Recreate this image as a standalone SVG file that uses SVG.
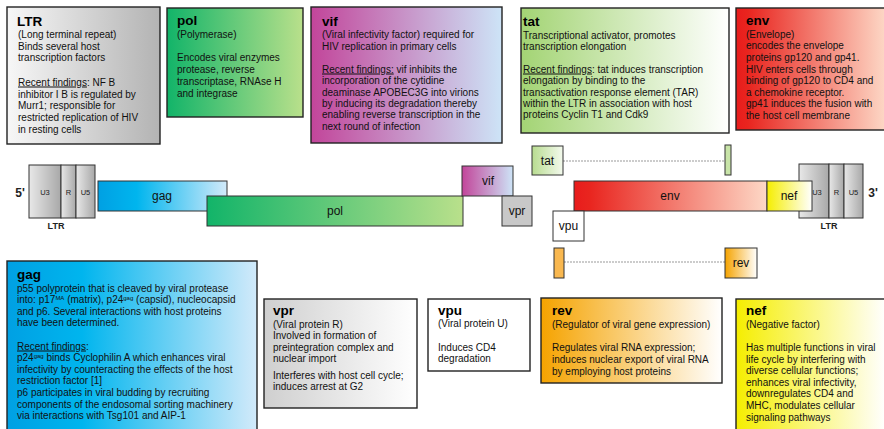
<svg xmlns="http://www.w3.org/2000/svg" width="884" height="429" viewBox="0 0 884 429">
<defs>
<linearGradient id="gLtrBox" x1="0" y1="0" x2="1" y2="0"><stop offset="0" stop-color="#f7f7f7"/><stop offset="1" stop-color="#b3b3b3"/></linearGradient>
<linearGradient id="gPol" x1="0" y1="0" x2="1" y2="0"><stop offset="0" stop-color="#12b469"/><stop offset="1" stop-color="#b9e08b"/></linearGradient>
<linearGradient id="gVif" x1="0" y1="0" x2="1" y2="0"><stop offset="0" stop-color="#c2459a"/><stop offset="1" stop-color="#cde4f7"/></linearGradient>
<linearGradient id="gTat" x1="0" y1="0" x2="1" y2="0"><stop offset="0" stop-color="#a3d474"/><stop offset="1" stop-color="#ffffff"/></linearGradient>
<linearGradient id="gEnv" x1="0" y1="0" x2="1" y2="0"><stop offset="0" stop-color="#e81c1c"/><stop offset="0.08" stop-color="#e9251f"/><stop offset="1" stop-color="#fdd8c6"/></linearGradient>
<linearGradient id="gGag" x1="0" y1="0" x2="1" y2="0"><stop offset="0" stop-color="#00a0e3"/><stop offset="0.3" stop-color="#00b5ee"/><stop offset="1" stop-color="#d2eafa"/></linearGradient>
<linearGradient id="gVpr" x1="0" y1="0" x2="1" y2="0"><stop offset="0" stop-color="#cfcfcf"/><stop offset="1" stop-color="#ffffff"/></linearGradient>
<linearGradient id="gRev" x1="0" y1="0" x2="1" y2="0"><stop offset="0" stop-color="#f5a300"/><stop offset="1" stop-color="#ffffff"/></linearGradient>
<linearGradient id="gNef" x1="0" y1="0" x2="1" y2="0"><stop offset="0" stop-color="#f5ee00"/><stop offset="1" stop-color="#ffffff"/></linearGradient>
<linearGradient id="gLtr" x1="0" y1="0" x2="1" y2="0"><stop offset="0" stop-color="#e8e8e8"/><stop offset="1" stop-color="#a8a8a8"/></linearGradient>
<linearGradient id="gTatSm" x1="0" y1="0" x2="1" y2="0"><stop offset="0" stop-color="#b8dc90"/><stop offset="1" stop-color="#f4faee"/></linearGradient>
</defs>
<style>
text{font-family:"Liberation Sans",Arial,sans-serif;fill:#111}
.box{stroke:#222;stroke-width:1.4}
.bar{stroke:#333;stroke-width:1}
.t{font-size:13.5px;font-weight:bold;fill:#000}
.b{font-size:10px}
.u{text-decoration:underline}
.g{font-size:12px;text-anchor:middle;fill:#111}
.s{font-size:7.5px;text-anchor:middle;fill:#222}
.l{font-size:9px;font-weight:bold;text-anchor:middle;fill:#222}
.p{font-size:12px;font-weight:bold;text-anchor:middle;fill:#222}
.sup{font-size:6px}
.dot{stroke:#999;stroke-width:1.2;stroke-dasharray:2 1;fill:none}
</style>
<rect width="884" height="429" fill="#fff"/>

<g id="box-ltr">
<rect class="box" x="7" y="7" width="153" height="137" fill="url(#gLtrBox)"/>
<text class="t" x="17" y="26">LTR</text>
<text class="b" x="18" y="38">(Long terminal repeat)</text>
<text class="b" x="18" y="49.5">Binds several host</text>
<text class="b" x="18" y="61">transcription factors</text>
<text class="b" x="18" y="85.5"><tspan class="u">Recent  findings</tspan>:  NF  B</text>
<text class="b" x="18" y="97.5">inhibitor I  B is regulated by</text>
<text class="b" x="18" y="109">Murr1; responsible for</text>
<text class="b" x="18" y="120.5">restricted replication of HIV</text>
<text class="b" x="18" y="132.5">in resting cells</text>
</g>

<g id="box-pol">
<rect class="box" x="167" y="8" width="136" height="109" fill="url(#gPol)"/>
<text class="t" x="177" y="25">pol</text>
<text class="b" x="177" y="37.5">(Polymerase)</text>
<text class="b" x="177" y="60.5">Encodes viral enzymes</text>
<text class="b" x="177" y="72.5">protease, reverse</text>
<text class="b" x="177" y="84.5">transcriptase, RNAse H</text>
<text class="b" x="177" y="96.5">and integrase</text>
</g>

<g id="box-vif">
<rect class="box" x="311" y="7" width="191" height="136" fill="url(#gVif)"/>
<text class="t" x="322" y="26">vif</text>
<text class="b" x="322" y="37.5">(Viral infectivity factor) required for</text>
<text class="b" x="322" y="49.5">HIV replication in primary cells</text>
<text class="b" x="322" y="72.5"><tspan class="u">Recent  findings:</tspan>  vif  inhibits  the</text>
<text class="b" x="322" y="83.5">incorporation of the cytidine</text>
<text class="b" x="322" y="95.5">deaminase APOBEC3G into virions</text>
<text class="b" x="322" y="106.5">by inducing its  degradation thereby</text>
<text class="b" x="322" y="118">enabling reverse transcription in the</text>
<text class="b" x="322" y="129.5">next round of infection</text>
</g>

<g id="box-tat">
<rect class="box" x="521" y="8" width="208" height="125" fill="url(#gTat)"/>
<text class="t" x="523" y="26">tat</text>
<text class="b" x="523" y="38.5">Transcriptional activator, promotes</text>
<text class="b" x="523" y="49.5">transcription elongation</text>
<text class="b" x="523" y="72.5"><tspan class="u">Recent  findings</tspan>:  tat  induces  transcription</text>
<text class="b" x="523" y="83.5">elongation by binding to the</text>
<text class="b" x="523" y="95.5">transactivation response element (TAR)</text>
<text class="b" x="523" y="106.5">within the LTR in association with host</text>
<text class="b" x="523" y="118">proteins Cyclin T1 and Cdk9</text>
</g>

<g id="box-env">
<rect class="box" x="736" y="8" width="150" height="122" fill="url(#gEnv)"/>
<text class="t" x="746" y="25">env</text>
<text class="b" x="746" y="37.5">(Envelope)</text>
<text class="b" x="746" y="48.5">encodes the envelope</text>
<text class="b" x="746" y="60.5">proteins gp120 and gp41.</text>
<text class="b" x="746" y="72.5">HIV enters cells through</text>
<text class="b" x="746" y="83.5">binding of gp120 to CD4 and</text>
<text class="b" x="746" y="95.5">a chemokine receptor.</text>
<text class="b" x="746" y="106.5">gp41 induces the fusion with</text>
<text class="b" x="746" y="118.5">the host cell membrane</text>
</g>

<g id="connectors">
<line class="dot" x1="563" y1="161" x2="725" y2="161"/>
<line class="dot" x1="564" y1="262" x2="725" y2="262"/>
</g>

<g id="ltr-5">
<text class="p" x="20" y="197">5'</text>
<rect class="bar" x="29" y="165" width="32" height="53" fill="url(#gLtr)"/>
<rect class="bar" x="61" y="165" width="15" height="53" fill="url(#gLtr)"/>
<rect class="bar" x="76" y="165" width="19" height="53" fill="url(#gLtr)"/>
<text class="s" x="45" y="195">U3</text>
<text class="s" x="68.5" y="195">R</text>
<text class="s" x="85.5" y="195">U5</text>
<text class="l" x="56" y="229">LTR</text>
</g>

<g id="gene-gag">
<rect class="bar" x="98" y="181" width="129" height="30" fill="url(#gGag)"/>
<text class="g" x="162" y="200">gag</text>
</g>

<g id="gene-pol">
<rect class="bar" x="207" y="196" width="256" height="30" fill="url(#gPol)"/>
<text class="g" x="335" y="215">pol</text>
</g>

<g id="gene-vif">
<rect class="bar" x="462" y="166" width="51" height="30" fill="url(#gVif)"/>
<text class="g" x="488" y="185">vif</text>
</g>

<g id="gene-vpr">
<rect class="bar" x="502" y="196" width="30" height="30" fill="#c8c8c8"/>
<text class="g" x="517" y="215">vpr</text>
</g>

<g id="gene-tat">
<rect class="bar" x="532" y="146" width="31" height="29" fill="url(#gTatSm)"/>
<text class="g" x="547.5" y="165">tat</text>
<rect class="bar" x="725" y="145" width="6" height="30" fill="#c8e4a8"/>
</g>

<g id="gene-env">
<rect class="bar" x="574" y="181" width="193" height="30" fill="url(#gEnv)"/>
<text class="g" x="670" y="200">env</text>
</g>

<g id="ltr-3">
<rect class="bar" x="799" y="164" width="30" height="54" fill="url(#gLtr)"/>
<rect class="bar" x="829" y="164" width="15" height="54" fill="url(#gLtr)"/>
<rect class="bar" x="844" y="164" width="19" height="54" fill="url(#gLtr)"/>
<text class="s" x="817" y="195">U3</text>
<text class="s" x="836.5" y="195">R</text>
<text class="s" x="853.5" y="195">U5</text>
<text class="p" x="873" y="197">3'</text>
<text class="l" x="829" y="229">LTR</text>
</g>

<g id="gene-nef">
<rect class="bar" x="767" y="181" width="45" height="30" fill="url(#gNef)"/>
<text class="g" x="789" y="200">nef</text>
</g>

<g id="gene-vpu">
<rect class="bar" x="553" y="211" width="31" height="30" fill="#fff"/>
<text class="g" x="568.5" y="230">vpu</text>
</g>

<g id="gene-rev">
<rect class="bar" x="554" y="248" width="10" height="30" fill="#f9b850"/>
<rect class="bar" x="725" y="248" width="32" height="30" fill="url(#gRev)"/>
<text class="g" x="741" y="267">rev</text>
</g>

<g id="box-gag">
<rect class="box" x="7" y="261" width="250" height="180" fill="url(#gGag)"/>
<text class="t" x="17" y="279">gag</text>
<text class="b" x="17" y="291.5">p55 polyprotein that is cleaved by viral protease</text>
<text class="b" x="17" y="303">into: p17<tspan class="sup" dy="-3">MA</tspan><tspan dy="3"> (matrix), p24</tspan><tspan class="sup" dy="-3">gag</tspan><tspan dy="3"> (capsid), nucleocapsid</tspan></text>
<text class="b" x="17" y="314.7">and p6. Several interactions with host proteins</text>
<text class="b" x="17" y="326.3">have been determined.</text>
<text class="b" x="17" y="349.5"><tspan class="u">Recent  findings</tspan>:</text>
<text class="b" x="17" y="361.1">p24<tspan class="sup" dy="-3">gag</tspan><tspan dy="3"> binds Cyclophilin A which enhances viral</tspan></text>
<text class="b" x="17" y="372.7">infectivity by counteracting the effects of the host</text>
<text class="b" x="17" y="384.3">restriction  factor [1]</text>
<text class="b" x="17" y="395.9">p6 participates in viral budding by recruiting</text>
<text class="b" x="17" y="407.5">components of the endosomal sorting machinery</text>
<text class="b" x="17" y="419.1">via interactions with Tsg101 and AIP-1</text>
</g>

<g id="box-vpr">
<rect class="box" x="264" y="299" width="153" height="109" fill="url(#gVpr)"/>
<text class="t" x="273" y="315">vpr</text>
<text class="b" x="273" y="327.5">(Viral protein R)</text>
<text class="b" x="273" y="339">Involved in formation of</text>
<text class="b" x="273" y="350.5">preintegration  complex  and</text>
<text class="b" x="273" y="362">nuclear  import</text>
<text class="b" x="273" y="378.5">Interferes with host cell cycle;</text>
<text class="b" x="273" y="390">induces  arrest  at  G2</text>
</g>

<g id="box-vpu">
<rect class="box" x="428" y="299" width="102" height="72" fill="#fff"/>
<text class="t" x="438" y="314.5">vpu</text>
<text class="b" x="438" y="326.5">(Viral protein U)</text>
<text class="b" x="438" y="350.5">Induces CD4</text>
<text class="b" x="438" y="362">degradation</text>
</g>

<g id="box-rev">
<rect class="box" x="541" y="298" width="181" height="85" fill="url(#gRev)"/>
<text class="t" x="552" y="315">rev</text>
<text class="b" x="552" y="327.5">(Regulator of viral gene expression)</text>
<text class="b" x="552" y="350.5">Regulates viral RNA expression;</text>
<text class="b" x="552" y="362.5">induces nuclear export of viral RNA</text>
<text class="b" x="552" y="374.5">by employing host proteins</text>
</g>

<g id="box-nef">
<rect class="box" x="736" y="299" width="150" height="140" fill="url(#gNef)"/>
<text class="t" x="746" y="315">nef</text>
<text class="b" x="746" y="327.5">(Negative  factor)</text>
<text class="b" x="746" y="350.5">Has multiple functions in viral</text>
<text class="b" x="746" y="362.5">life cycle by interfering with</text>
<text class="b" x="746" y="373.5">diverse  cellular functions;</text>
<text class="b" x="746" y="385.5">enhances viral infectivity,</text>
<text class="b" x="746" y="396.5">downregulates CD4 and</text>
<text class="b" x="746" y="408.5">MHC, modulates cellular</text>
<text class="b" x="746" y="420.5">signaling pathways</text>
</g>
</svg>
